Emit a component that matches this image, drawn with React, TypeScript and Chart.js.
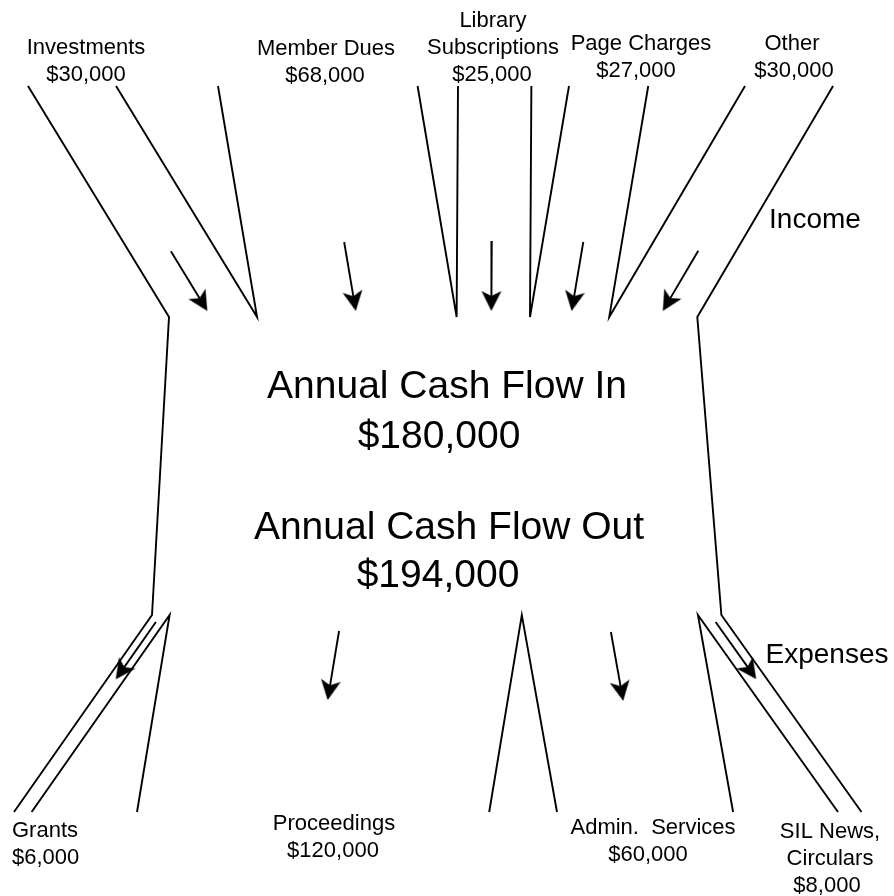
import React, { useEffect, useRef } from 'react';
import { Chart, registerables } from 'chart.js';

Chart.register(...registerables);

// ---------- DATA (values in $ thousands) ----------
const incomeCategories = ['Investments', 'Member Dues', 'Library\nSubscriptions', 'Page Charges', 'Other'];
const incomeValues = [30, 68, 25, 27, 30];
const expenseCategories = ['Grants', 'Proceedings', 'Admin.  Services', 'SIL News,\nCirculars'];
const expenseValues = [6, 120, 60, 8];
const centerTitles = ['Annual Cash Flow In', 'Annual Cash Flow Out'];
const sideTitles = ['Income', 'Expenses'];

// ---------- LAYOUT ----------
const W = 894;
const H = 896;
const PX_PER_K = 2.935; // channel width in px per $1,000
const BODY_LEFT_PX = 169;
const INC_TOP_Y = 86;
const INC_BOT_Y = 317;
const EXP_TOP_Y = 615;
const EXP_BOT_Y = 812;
const INC_TOP_LEFT_PX = [28, 218, 458, 569, 745];
const EXP_TOP_LEFT_PX = 152;
const EXP_BOT_LEFT_PX = [14, 137, 557, 838];
const INC_ARROW_TIP_Y = 311;
const INC_ARROW_DX = [-2, 0, -2, 1, 6];
const EXP_ARROW_START_Y = [622, 631, 632, 622];
const EXP_ARROW_DX = [0, -4, -2, 1];
const ARROW_LEN = 70;

const INC_LABEL_X = [86, 326, 493, 641, 792];
const INC_AMT_X = [86, 325, 492, 636, 794];
const INC_LABEL_Y = [54, 55, 27, 50, 50];
const EXP_LABEL_X = [12, 334, 653, 830];
const EXP_AMT_X = [12, 333, 648, 827];
const EXP_LABEL_ALIGN: CanvasTextAlign[] = ['left', 'center', 'center', 'center'];
const EXP_LABEL_Y = [837, 830, 834, 838];
const LINE_H = 27;
const CENTER_POS = [
  { x: 447, y: 398 },
  { x: 439, y: 448 },
  { x: 449, y: 539 },
  { x: 438, y: 587 },
];
const SIDE_POS = [
  { x: 815, y: 228 },
  { x: 827, y: 663 },
];
const FONT = '"Liberation Sans", Arial, Helvetica, sans-serif';

const money = (k: number) => '$' + (k * 1000).toLocaleString('en-US');
const toU = (px: number) => (px - BODY_LEFT_PX) / PX_PER_K;
const cum = (arr: number[]) => arr.map((_, i) => arr.slice(0, i).reduce((a, b) => a + b, 0));

function makeArrowHead(): HTMLCanvasElement {
  const c = document.createElement('canvas');
  c.width = 48;
  c.height = 48;
  const g = c.getContext('2d')!;
  g.fillStyle = '#000';
  g.beginPath();
  g.moveTo(24, 24);
  g.lineTo(4, 14);
  g.lineTo(9, 24);
  g.lineTo(4, 34);
  g.closePath();
  g.fill();
  return c;
}

function buildDatasets(head: HTMLCanvasElement) {
  const incCum = cum(incomeValues);
  const expCum = cum(expenseValues);
  const incTopL = INC_TOP_LEFT_PX.map(toU);
  const incTopR = incTopL.map((l, i) => l + incomeValues[i]);
  const incBotL = incCum;
  const incBotR = incCum.map((c, i) => c + incomeValues[i]);
  const expBase = toU(EXP_TOP_LEFT_PX);
  const expTopL = expCum.map((c) => expBase + c);
  const expTopR = expTopL.map((l, j) => l + expenseValues[j]);
  const expBotL = EXP_BOT_LEFT_PX.map(toU);
  const expBotR = expBotL.map((l, j) => l + expenseValues[j]);

  const lineStyle = {
    showLine: true,
    borderColor: '#000',
    borderWidth: 1.9,
    pointRadius: 0,
    fill: false,
    tension: 0,
  };
  const ds: any[] = [];
  // outer boundaries
  ds.push({
    ...lineStyle,
    data: [
      { x: incTopL[0], y: INC_TOP_Y },
      { x: incBotL[0], y: INC_BOT_Y },
      { x: expTopL[0], y: EXP_TOP_Y },
      { x: expBotL[0], y: EXP_BOT_Y },
    ],
  });
  const li = incomeValues.length - 1;
  const le = expenseValues.length - 1;
  ds.push({
    ...lineStyle,
    data: [
      { x: incTopR[li], y: INC_TOP_Y },
      { x: incBotR[li], y: INC_BOT_Y },
      { x: expTopR[le], y: EXP_TOP_Y },
      { x: expBotR[le], y: EXP_BOT_Y },
    ],
  });
  // income dividers
  for (let i = 0; i < li; i++) {
    ds.push({
      ...lineStyle,
      data: [
        { x: incTopR[i], y: INC_TOP_Y },
        { x: incBotR[i], y: INC_BOT_Y },
        { x: incTopL[i + 1], y: INC_TOP_Y },
      ],
    });
  }
  // expense dividers
  for (let j = 0; j < le; j++) {
    ds.push({
      ...lineStyle,
      data: [
        { x: expBotR[j], y: EXP_BOT_Y },
        { x: expTopR[j], y: EXP_TOP_Y },
        { x: expBotL[j + 1], y: EXP_BOT_Y },
      ],
    });
  }

  // arrows
  const tips: { x: number; y: number }[] = [];
  const rots: number[] = [];
  const addArrow = (
    topU: number, topY: number, botU: number, botY: number,
    anchorY: number, mode: 'tip' | 'start', dxPx: number
  ) => {
    const dxp = (botU - topU) * PX_PER_K;
    const dyp = botY - topY;
    const len = Math.hypot(dxp, dyp);
    const ux = dxp / len;
    const uy = dyp / len;
    const t = (anchorY - topY) / dyp;
    const ax = topU * PX_PER_K + t * dxp + dxPx;
    let sx: number, sy: number, tx: number, ty: number;
    if (mode === 'tip') {
      tx = ax; ty = anchorY;
      sx = tx - ARROW_LEN * ux; sy = ty - ARROW_LEN * uy;
    } else {
      sx = ax; sy = anchorY;
      tx = sx + ARROW_LEN * ux; ty = sy + ARROW_LEN * uy;
    }
    const ex = tx - 10 * ux;
    const ey = ty - 10 * uy;
    ds.push({
      ...lineStyle,
      data: [
        { x: sx / PX_PER_K, y: sy },
        { x: ex / PX_PER_K, y: ey },
      ],
    });
    tips.push({ x: tx / PX_PER_K, y: ty });
    rots.push((Math.atan2(uy, ux) * 180) / Math.PI);
  };
  incomeValues.forEach((v, i) => {
    addArrow(incTopL[i] + v / 2, INC_TOP_Y, incBotL[i] + v / 2, INC_BOT_Y, INC_ARROW_TIP_Y, 'tip', INC_ARROW_DX[i]);
  });
  expenseValues.forEach((v, j) => {
    addArrow(expTopL[j] + v / 2, EXP_TOP_Y, expBotL[j] + v / 2, EXP_BOT_Y, EXP_ARROW_START_Y[j], 'start', EXP_ARROW_DX[j]);
  });
  ds.push({
    showLine: false,
    data: tips,
    pointStyle: head,
    pointRadius: 1,
    pointRotation: rots,
    borderWidth: 0,
    backgroundColor: '#000',
    borderColor: '#000',
  });
  return ds;
}

const textPlugin = {
  id: 'flowText',
  beforeDraw(chart: any) {
    const ctx = chart.ctx;
    ctx.save();
    ctx.fillStyle = '#fff';
    ctx.fillRect(0, 0, chart.width, chart.height);
    ctx.restore();
  },
  afterDatasetsDraw(chart: any) {
    const ctx: CanvasRenderingContext2D = chart.ctx;
    ctx.save();
    ctx.fillStyle = '#000';
    ctx.textBaseline = 'alphabetic';
    // income labels
    ctx.font = `22px ${FONT}`;
    ctx.textAlign = 'center';
    incomeCategories.forEach((name, i) => {
      const lines = name.split('\n');
      lines.forEach((ln, k) => ctx.fillText(ln, INC_LABEL_X[i], INC_LABEL_Y[i] + k * LINE_H));
      ctx.fillText(money(incomeValues[i]), INC_AMT_X[i], INC_LABEL_Y[i] + lines.length * LINE_H);
    });
    expenseCategories.forEach((name, j) => {
      ctx.textAlign = EXP_LABEL_ALIGN[j];
      const lines = name.split('\n');
      lines.forEach((ln, k) => ctx.fillText(ln, EXP_LABEL_X[j], EXP_LABEL_Y[j] + k * LINE_H));
      ctx.fillText(money(expenseValues[j]), EXP_AMT_X[j], EXP_LABEL_Y[j] + lines.length * LINE_H);
    });
    // center titles
    const totalIn = incomeValues.reduce((a, b) => a + b, 0);
    const totalOut = expenseValues.reduce((a, b) => a + b, 0);
    const centerLines = [centerTitles[0], money(totalIn), centerTitles[1], money(totalOut)];
    ctx.font = `39px ${FONT}`;
    ctx.textAlign = 'center';
    centerLines.forEach((t, k) => ctx.fillText(t, CENTER_POS[k].x, CENTER_POS[k].y));
    // side titles
    ctx.font = `28px ${FONT}`;
    sideTitles.forEach((t, k) => ctx.fillText(t, SIDE_POS[k].x, SIDE_POS[k].y));
    ctx.restore();
  },
};

export default function App() {
  const ref = useRef<HTMLCanvasElement | null>(null);
  useEffect(() => {
    if (!ref.current) return;
    const head = makeArrowHead();
    const chart = new Chart(ref.current, {
      type: 'scatter',
      data: { datasets: buildDatasets(head) },
      options: {
        animation: false,
        responsive: false,
        events: [],
        layout: { padding: 0, autoPadding: false },
        plugins: {
          legend: { display: false },
          tooltip: { enabled: false },
        },
        scales: {
          x: { type: 'linear', display: false, min: toU(0), max: toU(W) },
          y: { type: 'linear', display: false, reverse: true, min: 0, max: H },
        },
      },
      plugins: [textPlugin],
    } as any);
    return () => chart.destroy();
  }, []);
  return (
    <div style={{ position: 'fixed', left: 0, top: 0, width: W, height: H, background: '#fff' }}>
      <canvas ref={ref} width={W} height={H} style={{ display: 'block' }} />
    </div>
  );
}
